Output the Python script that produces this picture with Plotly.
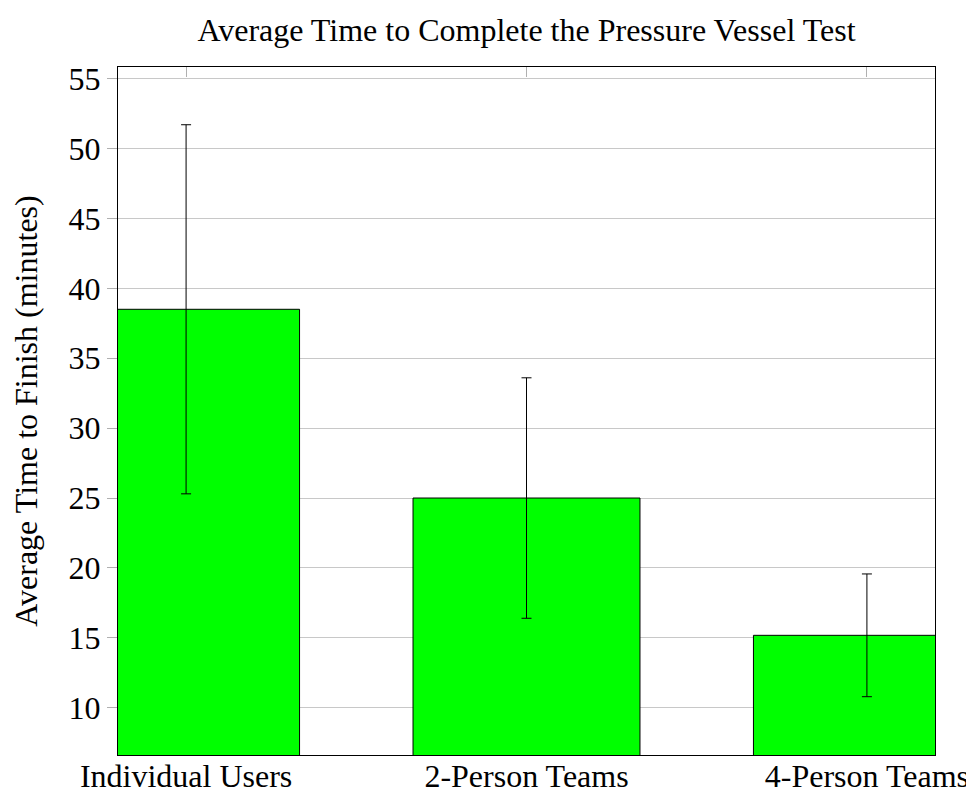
import plotly.graph_objects as go

categories = ["Individual Users", "2-Person Teams", "4-Person Teams"]
mean_minutes = [38.5, 25.0, 15.18]
error_minutes = [13.2, 8.6, 4.39]
y_tick_values = [10, 15, 20, 25, 30, 35, 40, 45, 50, 55]

FONT = "Liberation Serif, Times New Roman, serif"
SIZE = 32

fig = go.Figure()
fig.add_trace(go.Bar(
    x=categories,
    y=mean_minutes,
    width=2 / 3,
    marker=dict(color="#00ff00", line=dict(color="black", width=1)),
    error_y=dict(type="data", array=error_minutes, visible=True,
                 color="black", thickness=1, width=5),
    showlegend=False,
))

# page body has an 8px margin, so the figure is sized to fit inside the window
fig.update_layout(
    width=966, height=788,
    margin=dict(l=110, r=39, t=59, b=41),
    paper_bgcolor="white", plot_bgcolor="white",
    font=dict(family=FONT, size=SIZE, color="black"),
    title=dict(text="Average Time to Complete the Pressure Vessel Test",
               x=0.5, xref="paper", xanchor="center",
               y=1 - 22 / 788, yref="container", yanchor="middle",
               font=dict(family=FONT, size=SIZE, color="black")),
    xaxis=dict(
        type="category", range=[-0.2, 2.2],
        automargin=False,
        showgrid=False, zeroline=False,
        showline=True, linecolor="black", linewidth=1,
        mirror="ticks", ticks="inside", ticklen=10, tickcolor="#b0b0b0",
        layer="below traces",
        ticklabelstandoff=-7,
        tickfont=dict(family=FONT, size=SIZE, color="black"),
    ),
    yaxis=dict(
        range=[6.62, 55.83],
        automargin=False,
        tickvals=y_tick_values,
        showgrid=True, gridcolor="#c8c8c8", gridwidth=1,
        zeroline=False,
        showline=True, linecolor="black", linewidth=1, mirror=True,
        ticks="outside", ticklen=10, tickcolor="#b0b0b0",
        tickfont=dict(family=FONT, size=SIZE, color="black"),
        title=dict(text="Average Time to Finish (minutes)",
                   font=dict(family=FONT, size=SIZE, color="black"),
                   standoff=38),
    ),
)

fig.write_html("out.html")
